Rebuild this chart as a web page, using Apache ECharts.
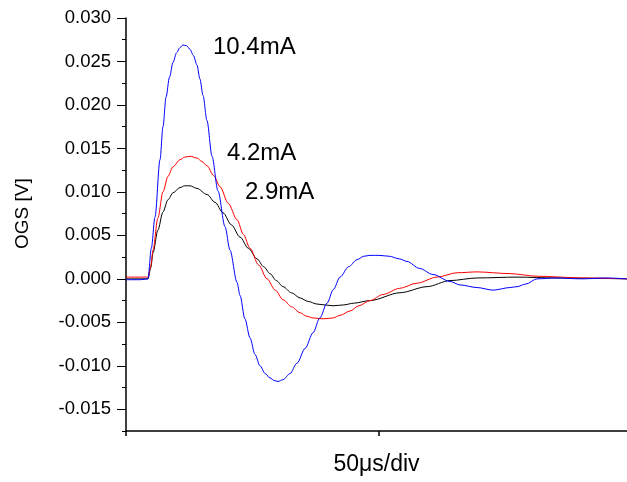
<!DOCTYPE html>
<html>
<head>
<meta charset="utf-8">
<script src="https://cdn.jsdelivr.net/npm/echarts@6/dist/echarts.min.js"></script>
<style>
html,body{margin:0;padding:0;background:#fff;}
#c{width:627px;height:482px;}
</style>
</head>
<body>
<div id="c"></div>
<script>
// time in microseconds, values in volts
var seriesNames = ['10.4mA', '4.2mA', '2.9mA'];
var xTickValues = [0, 50];
var yTickLabels = ['-0.015', '-0.010', '-0.005', '0.000', '0.005', '0.010', '0.015', '0.020', '0.025', '0.030'];

var blue104 = [
  [0, -0.0001], [2.8, -0.0001], [4.35, 0.0], [5.0, 0.0035], [5.73, 0.0071], [6.72, 0.0137],
  [7.31, 0.0175], [7.91, 0.0209], [8.6, 0.0232], [9.29, 0.0249], [10.0, 0.0260], [10.67, 0.0266],
  [11.26, 0.0269], [12.0, 0.0268], [12.65, 0.0264], [13.3, 0.0257], [14.03, 0.0246],
  [14.6, 0.0230], [15.22, 0.0211], [16.0, 0.0182], [17.0, 0.0141], [18.18, 0.0101],
  [19.57, 0.0060], [20.55, 0.0033], [21.94, -0.0004], [22.53, -0.0019], [23.5, -0.0046],
  [24.51, -0.0068], [25.5, -0.0087], [26.48, -0.0100], [27.5, -0.0109], [28.46, -0.0114],
  [29.3, -0.0117], [30.04, -0.0118], [31.03, -0.0116], [32.4, -0.0109], [33.79, -0.0097],
  [35.4, -0.0080], [36.96, -0.0062], [38.3, -0.0045], [39.72, -0.0028], [41.0, -0.0012],
  [42.29, 0.0002], [44.0, 0.0014], [45.65, 0.0022], [47.0, 0.0026], [48.22, 0.0027],
  [50.0, 0.0027], [52.0, 0.0026], [54.0, 0.0023], [55.53, 0.0020], [58.0, 0.0012],
  [60.67, 0.0005], [64.03, -0.0003], [66.0, -0.0007], [69.37, -0.0010], [72.53, -0.0013],
  [75.89, -0.0010], [77.27, -0.0009], [79.0, -0.0006], [81.23, 0.0], [85.0, 0.0001],
  [90.0, 0.0], [95.0, 0.0001], [99.0, 0.0]
];
var red42 = [
  [0, 0.0002], [4.35, 0.0002], [4.9, 0.0015], [5.34, 0.0033], [6.3, 0.0070], [7.31, 0.0100],
  [8.3, 0.0118], [9.29, 0.0129], [10.67, 0.0137], [11.6, 0.0140], [12.65, 0.0141],
  [14.03, 0.0139], [15.0, 0.0135], [16.01, 0.0130], [17.3, 0.0119], [18.58, 0.0106],
  [20.2, 0.0087], [21.94, 0.0068], [23.2, 0.0051], [24.51, 0.0035], [26.2, 0.0016],
  [27.87, 0.0000], [29.5, -0.0013], [31.03, -0.0024], [32.7, -0.0032], [34.39, -0.0039],
  [35.7, -0.0043], [36.96, -0.0045], [38.93, -0.0046], [40.91, -0.0045], [42.3, -0.0042],
  [44.27, -0.0037], [46.0, -0.0031], [48.22, -0.0025], [50.79, -0.0018], [54.0, -0.0011],
  [57.51, -0.0005], [61.46, 0.0002], [65.42, 0.0007], [69.37, 0.0008], [75.89, 0.0006],
  [81.23, 0.0003], [90.32, 0.0001], [99.0, 0.0]
];
var black29 = [
  [0, 0.0], [4.35, 0.0], [4.9, 0.0013], [5.34, 0.0030], [6.3, 0.0056], [7.31, 0.0077],
  [8.3, 0.0091], [9.29, 0.0099], [10.67, 0.0105], [11.6, 0.0107], [12.65, 0.0107],
  [14.03, 0.0104], [16.01, 0.0097], [17.6, 0.0088], [19.17, 0.0076], [20.85, 0.0062],
  [22.53, 0.0048], [24.2, 0.0035], [25.89, 0.0023], [27.2, 0.0014], [28.46, 0.0006],
  [29.7, -0.0002], [31.03, -0.0009], [32.7, -0.0016], [34.39, -0.0022], [36.0, -0.0026],
  [37.75, -0.0029], [39.3, -0.0030], [40.91, -0.0031], [43.0, -0.0030], [45.0, -0.0028],
  [48.22, -0.0025], [54.15, -0.0016], [59.49, -0.0009], [64.03, -0.0002], [69.37, 0.0001],
  [77.27, 0.0002], [85.0, 0.0001], [99.0, 0.0]
];

var yTickValues = yTickLabels.map(Number);
var FONT = '"Liberation Sans", Arial, sans-serif';

var chart = echarts.init(document.getElementById('c'), null, {renderer: 'canvas'});
var option = {
  animation: false,
  backgroundColor: '#ffffff',
  grid: {left: 126, right: 0, top: 18, bottom: 51, containLabel: false},
  xAxis: {
    type: 'value', min: 0, max: 99,
    name: '50\u03bcs/div', nameLocation: 'middle', nameGap: 22,
    nameTextStyle: {fontFamily: FONT, fontSize: 23, color: '#000'},
    axisLine: {onZero: false, lineStyle: {color: '#000', width: 1.5}},
    axisTick: {show: true, inside: false, length: 5, customValues: xTickValues, lineStyle: {color: '#000', width: 1.5}},
    axisLabel: {show: false},
    splitLine: {show: false}
  },
  yAxis: [{
    type: 'value', min: -0.0175, max: 0.03, interval: 0.0025,
    axisLine: {show: true, onZero: false, lineStyle: {color: '#000', width: 1.5}},
    axisTick: {show: true, length: 4, lineStyle: {color: '#000', width: 1}},
    axisLabel: {show: false},
    splitLine: {show: false}
  }, {
    type: 'value', min: -0.0175, max: 0.03, position: 'left',
    axisLine: {show: false, onZero: false},
    axisTick: {show: true, length: 9, customValues: yTickValues, lineStyle: {color: '#000', width: 1}},
    axisLabel: {
      show: true, customValues: yTickValues, margin: 15,
      fontFamily: FONT, fontSize: 18.5, color: '#000',
      formatter: function (v) {
        var s = yTickLabels[yTickValues.indexOf(v)];
        if (s !== undefined) return s;
        return v.toFixed(3);
      }
    },
    splitLine: {show: false}
  }],
  series: [
    {name: seriesNames[2], type: 'line', data: black29, smooth: 0.3, smoothMonotone: 'x', symbol: 'none',
     lineStyle: {color: '#000000', width: 1}},
    {name: seriesNames[1], type: 'line', data: red42, smooth: 0.3, smoothMonotone: 'x', symbol: 'none',
     lineStyle: {color: '#ff0000', width: 1}},
    {name: seriesNames[0], type: 'line', data: blue104, smooth: 0.3, smoothMonotone: 'x', symbol: 'none',
     lineStyle: {color: '#0000ff', width: 1}}
  ],
  graphic: [
    {type: 'text', left: 213, top: 35, style: {text: seriesNames[0], font: '24px ' + FONT, fill: '#000'}},
    {type: 'text', left: 227, top: 141, style: {text: seriesNames[1], font: '24px ' + FONT, fill: '#000'}},
    {type: 'text', left: 245, top: 180, style: {text: seriesNames[2], font: '24px ' + FONT, fill: '#000'}},
    {type: 'text', x: 13, y: 249, rotation: Math.PI / 2,
     style: {text: 'OGS [V]', font: '19px ' + FONT, fill: '#000'}}
  ]
};
chart.setOption(option);
</script>
</body>
</html>
